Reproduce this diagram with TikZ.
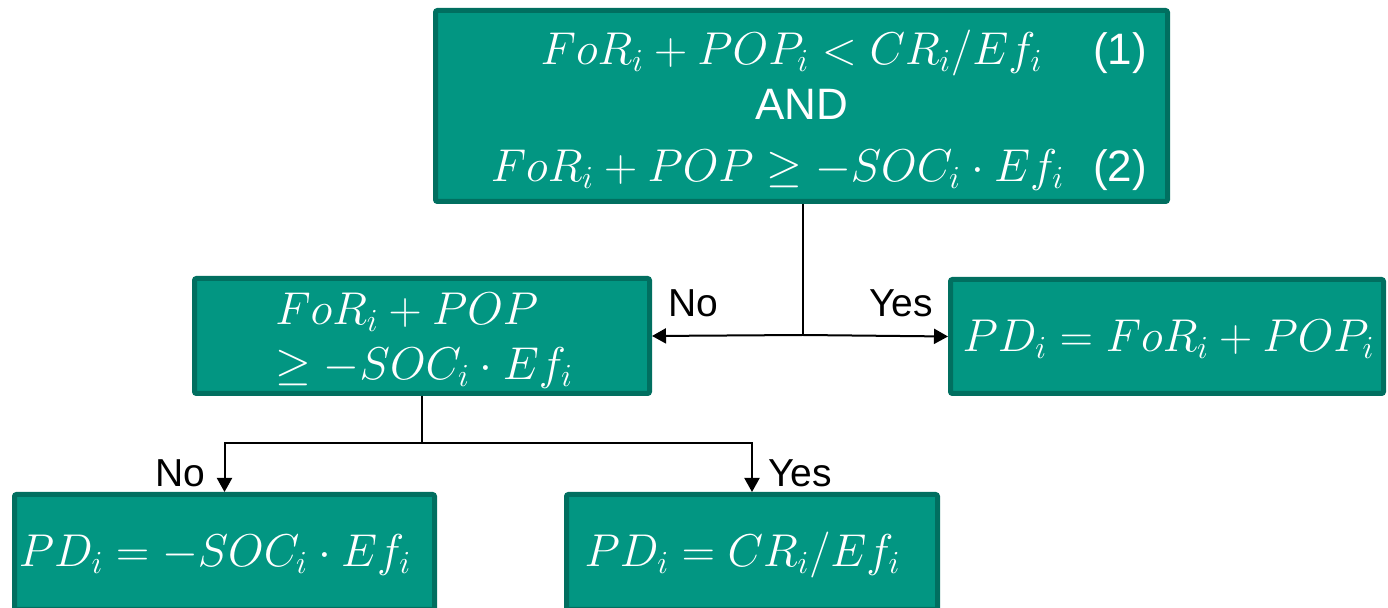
\documentclass[tikz,border=0pt]{standalone}
\usepackage{fix-cm}
\usepackage{fontspec}
\setmainfont{Liberation Sans}
\usetikzlibrary{arrows.meta}
\definecolor{boxfill}{RGB}{2,150,130}
\definecolor{boxline}{RGB}{1,111,96}
\tikzset{
  panel/.style={draw=boxline, fill=boxfill, line width=2.5pt, rounded corners=1pt, inner sep=0pt},
  eq/.style={text=white, inner sep=0pt, font=\fontsize{23}{28}\selectfont},
  tag/.style={text=white, inner sep=0pt, font=\fontsize{22}{26}\selectfont},
  answer/.style={text=black, inner sep=0pt, font=\fontsize{19.5}{23}\selectfont},
  flow/.style={line width=1pt, draw=black, -{Triangle[length=7pt,width=7.5pt]}},
  wire/.style={line width=1pt, draw=black}
}
\begin{document}
\begin{tikzpicture}[x=0.5pt, y=-0.5pt]
\useasboundingbox (0,0) rectangle (1388,608);

% decision boxes and results
\node[panel, minimum width=366pt, minimum height=95.5pt] (top) at (801.5,106) {};
\node[panel, minimum width=227.5pt, minimum height=57.5pt] (mid) at (422,336) {};
\node[panel, minimum width=216.5pt, minimum height=57pt] (res1) at (1167,336.5) {};
\node[panel, minimum width=210pt, minimum height=57.5pt] (res2) at (224.5,552) {};
\node[panel, minimum width=185.5pt, minimum height=57.5pt] (res3) at (752,552) {};

% conditions of the first test
\node[eq, anchor=base] (c1) at (791.5,65) {$FoR_i+POP_i<CR_i/Ef_i$};
\node[tag, anchor=base] (n1) at (1120,65) {(1)};
\node[tag, anchor=base] (and) at (801.5,120) {AND};
\node[eq, anchor=base] (c2) at (777.5,182) {$FoR_i+POP\geq -SOC_i\cdot Ef_i$};
\node[tag, anchor=base] (n2) at (1120,182) {(2)};

% second test
\node[eq, anchor=base west] (m1) at (275,325) {$FoR_i+POP$};
\node[eq, anchor=base west] (m2) at (275,380) {$\geq -SOC_i\cdot Ef_i$};

% results
\node[eq, anchor=base] (r1) at (1168.5,352) {$PD_i=FoR_i+POP_i$};
\node[eq, anchor=base] (r2) at (215,567) {$PD_i=-SOC_i\cdot Ef_i$};
\node[eq, anchor=base] (r3) at (742.5,567) {$PD_i=CR_i/Ef_i$};

% branching from the first test
\coordinate (j1) at (803,335);
\draw[wire] (top.south -| j1) -- (j1);
\draw[flow] (j1) -- (mid.east);
\draw[flow] (j1) -- (res1.west);
\node[answer] (no1) at (693,303) {No};
\node[answer] (yes1) at (901,303) {Yes};

% branching from the second test
\coordinate (j2) at (422,443);
\draw[wire] (mid.south) -- (j2);
\draw[flow] (j2) -| (res2.north);
\draw[flow] (j2) -| (res3.north);
\node[answer] (no2) at (180,473) {No};
\node[answer] (yes2) at (800,473) {Yes};
\end{tikzpicture}
\end{document}
